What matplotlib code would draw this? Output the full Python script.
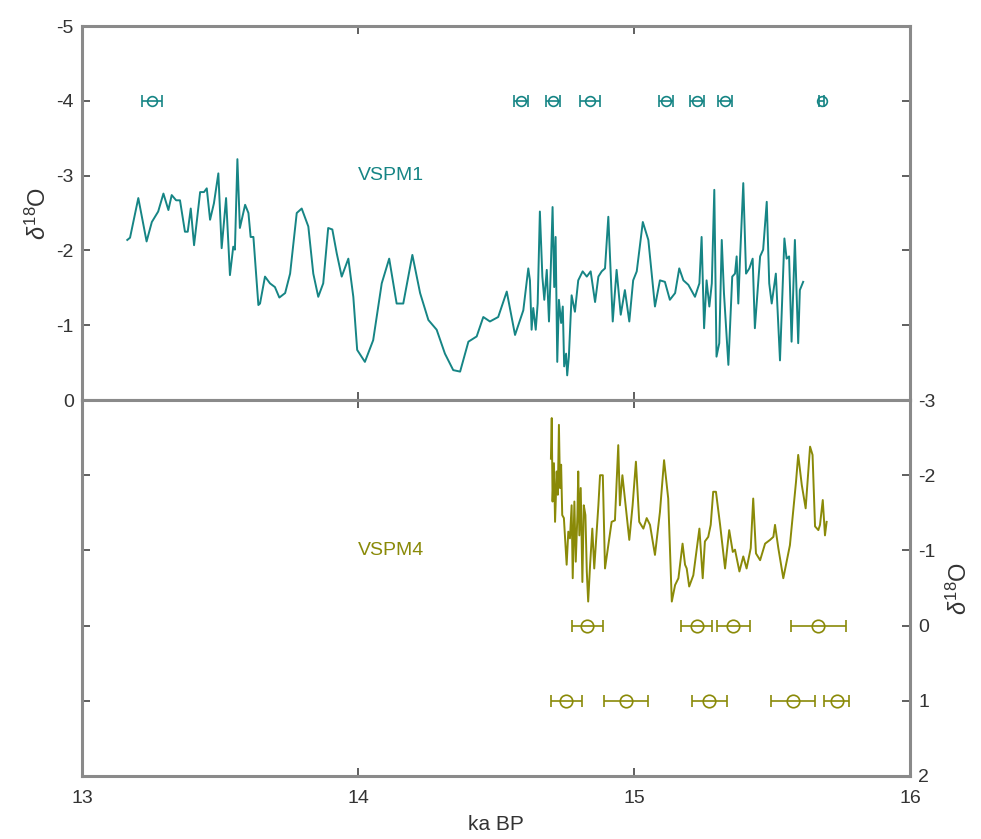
import matplotlib
matplotlib.use('Agg')
import matplotlib.pyplot as plt
import numpy as np

plt.rcParams['font.family'] = ['Liberation Sans', 'DejaVu Sans']
plt.rcParams['mathtext.fontset'] = 'custom'
plt.rcParams['mathtext.rm'] = 'Liberation Sans'
plt.rcParams['mathtext.it'] = 'Liberation Sans:italic'
plt.rcParams['axes.unicode_minus'] = False

TEAL = '#168585'
OLIVE = '#8a8a08'
SPINE = '#8a8a8a'

# VSPM1 d18O record (ka BP, permil)
vspm1_age = [13.164, 13.174, 13.204, 13.234, 13.253, 13.276, 13.295, 13.313, 13.325, 13.341,
             13.355, 13.373, 13.383, 13.394, 13.406, 13.428, 13.442, 13.452, 13.464, 13.478,
             13.494, 13.506, 13.522, 13.536, 13.548, 13.554, 13.563, 13.572, 13.591, 13.603,
             13.611, 13.621, 13.639, 13.645, 13.663, 13.681, 13.699, 13.715, 13.736, 13.754,
             13.778, 13.796, 13.820, 13.838, 13.856, 13.874, 13.892, 13.907, 13.923, 13.941,
             13.965, 13.983, 13.997, 14.025, 14.055, 14.086, 14.113, 14.140, 14.164, 14.197,
             14.225, 14.255, 14.285, 14.315, 14.345, 14.370, 14.400, 14.430, 14.454, 14.478,
             14.508, 14.539, 14.569, 14.599, 14.617, 14.623, 14.629, 14.635, 14.644, 14.651,
             14.659, 14.668, 14.675, 14.684, 14.692, 14.698, 14.705, 14.711, 14.716, 14.722,
             14.728, 14.736, 14.742, 14.747, 14.754, 14.758, 14.764, 14.774, 14.786, 14.798,
             14.814, 14.829, 14.843, 14.859, 14.871, 14.883, 14.895, 14.907, 14.923, 14.937,
             14.952, 14.967, 14.983, 14.997, 15.010, 15.032, 15.052, 15.076, 15.094, 15.112,
             15.130, 15.149, 15.164, 15.179, 15.197, 15.221, 15.237, 15.245, 15.254, 15.263,
             15.273, 15.282, 15.291, 15.299, 15.309, 15.318, 15.326, 15.342, 15.356, 15.366,
             15.372, 15.378, 15.384, 15.396, 15.406, 15.418, 15.430, 15.438, 15.457, 15.468,
             15.481, 15.490, 15.499, 15.514, 15.529, 15.545, 15.553, 15.562, 15.571, 15.583,
             15.595, 15.601, 15.613]
vspm1_d18o = [-2.14, -2.17, -2.70, -2.12, -2.38, -2.52, -2.76, -2.54, -2.74, -2.67,
              -2.67, -2.25, -2.25, -2.56, -2.07, -2.78, -2.78, -2.83, -2.41, -2.63,
              -3.03, -2.03, -2.70, -1.67, -2.05, -2.01, -3.22, -2.30, -2.61, -2.50,
              -2.18, -2.18, -1.27, -1.29, -1.65, -1.56, -1.51, -1.37, -1.43, -1.69,
              -2.50, -2.56, -2.32, -1.69, -1.38, -1.56, -2.30, -2.28, -1.96, -1.65,
              -1.89, -1.38, -0.67, -0.51, -0.80, -1.56, -1.89, -1.29, -1.29, -1.94,
              -1.43, -1.07, -0.94, -0.62, -0.40, -0.38, -0.78, -0.85, -1.11, -1.05,
              -1.11, -1.45, -0.87, -1.20, -1.76, -1.60, -0.94, -1.23, -0.94, -1.29,
              -2.52, -1.65, -1.34, -1.74, -1.05, -1.69, -2.58, -1.51, -2.18, -0.51,
              -1.34, -1.03, -1.25, -0.45, -0.62, -0.33, -0.58, -1.40, -1.18, -1.60,
              -1.72, -1.65, -1.72, -1.31, -1.65, -1.72, -1.76, -2.45, -1.05, -1.74,
              -1.14, -1.47, -1.05, -1.60, -1.72, -2.38, -2.14, -1.25, -1.60, -1.58,
              -1.34, -1.43, -1.76, -1.60, -1.54, -1.38, -1.56, -2.18, -0.96, -1.60,
              -1.25, -1.56, -2.81, -0.58, -0.76, -2.14, -1.43, -0.47, -1.65, -1.69,
              -1.92, -1.29, -1.87, -2.90, -1.69, -1.76, -1.89, -0.96, -1.92, -2.01,
              -2.65, -1.56, -1.29, -1.69, -0.53, -2.16, -1.89, -1.92, -0.78, -2.14,
              -0.76, -1.47, -1.58]

# VSPM4 d18O record
vspm4_age = [14.699, 14.702, 14.705, 14.710, 14.714, 14.720, 14.724, 14.728, 14.732, 14.736,
             14.740, 14.746, 14.756, 14.762, 14.768, 14.774, 14.778, 14.784, 14.789, 14.795,
             14.798, 14.802, 14.807, 14.813, 14.818, 14.824, 14.829, 14.834, 14.841, 14.849,
             14.856, 14.871, 14.877, 14.887, 14.895, 14.907, 14.919, 14.931, 14.943, 14.949,
             14.958, 14.967, 14.983, 14.995, 15.007, 15.019, 15.034, 15.046, 15.058, 15.076,
             15.094, 15.109, 15.124, 15.137, 15.149, 15.161, 15.176, 15.185, 15.191, 15.200,
             15.215, 15.237, 15.249, 15.257, 15.269, 15.278, 15.287, 15.297, 15.312, 15.330,
             15.345, 15.358, 15.366, 15.382, 15.396, 15.408, 15.423, 15.432, 15.442, 15.457,
             15.475, 15.493, 15.505, 15.511, 15.523, 15.541, 15.565, 15.587, 15.595, 15.608,
             15.622, 15.638, 15.647, 15.656, 15.668, 15.674, 15.684, 15.692, 15.698]
vspm4_d18o = [-2.22, -2.76, -1.65, -2.16, -1.38, -2.05, -1.74, -2.67, -1.83, -2.14,
              -1.47, -1.43, -0.81, -1.25, -1.16, -1.60, -0.63, -1.65, -0.85, -1.47,
              -2.05, -1.20, -1.83, -0.58, -1.60, -1.47, -0.72, -0.32, -0.81, -1.29,
              -0.76, -1.60, -2.00, -2.00, -0.76, -1.07, -1.38, -1.40, -2.40, -1.60,
              -2.00, -1.69, -1.14, -1.60, -2.18, -1.38, -1.29, -1.43, -1.34, -0.94,
              -1.51, -2.20, -1.69, -0.32, -0.54, -0.63, -1.09, -0.81, -0.76, -0.52,
              -0.67, -1.29, -0.63, -1.12, -1.18, -1.34, -1.78, -1.78, -1.34, -0.76,
              -1.27, -0.98, -1.01, -0.72, -0.92, -0.76, -1.03, -1.69, -0.96, -0.87,
              -1.09, -1.14, -1.18, -1.34, -1.03, -0.63, -1.07, -1.91, -2.27, -1.87,
              -1.56, -2.38, -2.27, -1.32, -1.27, -1.34, -1.67, -1.20, -1.38]

# U-Th dates with 2-sigma errors
vspm1_dates = [13.254, 14.590, 14.708, 14.841, 15.115, 15.227, 15.330, 15.680]
vspm1_err = [0.037, 0.025, 0.025, 0.036, 0.025, 0.025, 0.025, 0.010]
vspm1_date_y = [-4, -4, -4, -4, -4, -4, -4, -4]

vspm4_dates = [14.831, 15.227, 15.360, 15.668, 14.754, 14.971, 15.273, 15.577, 15.734]
vspm4_err = [0.056, 0.057, 0.059, 0.100, 0.056, 0.079, 0.063, 0.079, 0.044]
vspm4_date_y = [0, 0, 0, 0, 1, 1, 1, 1, 1]

fig = plt.figure(figsize=(9.81, 8.39), dpi=100)
ax1 = fig.add_axes([0.0836, 0.5232, 0.8440, 0.4458])
ax2 = fig.add_axes([0.0836, 0.0751, 0.8440, 0.4481])

for ax in (ax1, ax2):
    ax.set_xlim(13, 16)
    ax.set_xticks([13, 14, 15, 16])
    for s in ax.spines.values():
        s.set_color(SPINE)
        s.set_linewidth(2.2)
    ax.tick_params(direction='in', length=6, width=1.2, color='#444444',
                   labelsize=14, labelcolor='#333333', top=True, bottom=True,
                   left=True, right=True, pad=6)

# top panel
ax1.plot(vspm1_age, vspm1_d18o, color=TEAL, lw=1.4)
ax1.errorbar(vspm1_dates, vspm1_date_y, xerr=vspm1_err, fmt='o', ms=7,
             mfc='none', mec=TEAL, ecolor=TEAL, elinewidth=1.2, capsize=4, mew=1.2)
ax1.set_ylim(0, -5)
ax1.set_yticks([-5, -4, -3, -2, -1, 0])
ax1.tick_params(labelbottom=False, labelleft=True, labelright=False)
ax1.set_ylabel(r'$\delta^{18}$O', fontsize=17, color='#333333', labelpad=4)
ax1.text(14.0, -3.0, 'VSPM1', color=TEAL, fontsize=14, va='center', ha='left')

# bottom panel
ax2.plot(vspm4_age, vspm4_d18o, color=OLIVE, lw=1.4)
ax2.errorbar(vspm4_dates, vspm4_date_y, xerr=vspm4_err, fmt='o', ms=9,
             mfc='none', mec=OLIVE, ecolor=OLIVE, elinewidth=1.2, capsize=4, mew=1.2)
ax2.set_ylim(2, -3)
ax2.set_yticks([-3, -2, -1, 0, 1, 2])
ax2.tick_params(labelleft=False, labelright=True, labelbottom=True)
ax2.tick_params(axis='x', pad=10)
ax2.yaxis.set_label_position('right')
ax2.set_ylabel(r'$\delta^{18}$O', fontsize=17, color='#333333', labelpad=8)
ax2.set_xlabel('ka BP', fontsize=15, color='#333333', labelpad=6)
ax2.text(14.0, -1.0, 'VSPM4', color=OLIVE, fontsize=14, va='center', ha='left')

fig.savefig('out.png', dpi=100)
